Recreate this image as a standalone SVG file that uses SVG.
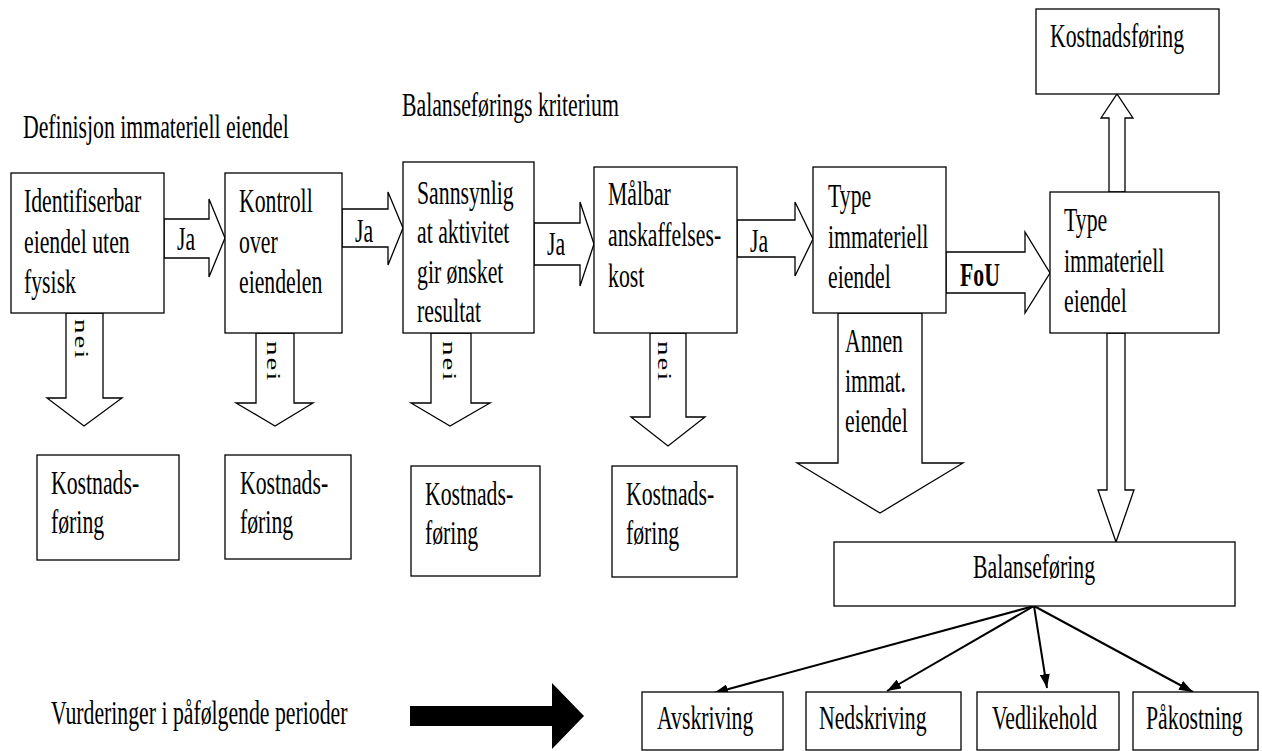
<svg xmlns="http://www.w3.org/2000/svg" width="1262" height="751" viewBox="0 0 1262 751">
  <defs>
    <style>
      .box { fill: #fff; stroke: #000; stroke-width: 1.3; }
      .blk { fill: #fff; stroke: #000; stroke-width: 1.3; stroke-linejoin: miter; }
      .t { font-family: "Liberation Serif", "Times New Roman", serif; font-size: 34px; fill: #000; }
      .b { font-weight: bold; }
      .v { font-family: "Liberation Serif", "Times New Roman", serif; font-size: 29px; letter-spacing: 2px; fill: #000; }
      .fan { stroke: #000; stroke-width: 2; fill: none; marker-end: url(#head); }
    </style>
    <marker id="head" viewBox="0 0 14 10" refX="14" refY="5" markerWidth="14" markerHeight="10" markerUnits="userSpaceOnUse" orient="auto">
      <path d="M0,0 L14,5 L0,10 Z" fill="#000"/>
    </marker>
  </defs>

  <rect width="1262" height="751" fill="#fff"/>

  <!-- headings -->
  <text class="t" transform="translate(23 138) scale(.64 1)">Definisjon immateriell eiendel</text>
  <text class="t" transform="translate(402 116) scale(.64 1)">Balanseførings kriterium</text>
  <text class="t" transform="translate(51 724) scale(.64 1)">Vurderinger i påfølgende perioder</text>

  <!-- connectors: block arrows, labels and fan-out arrows -->
  <g id="connectors">
    <!-- Ja arrows -->
    <polygon class="blk" points="164,219 209,219 209,199 225,238 209,277 209,258 164,258"/>
    <polygon class="blk" points="342,209 388,209 388,192 403,228 388,265 388,247 342,247"/>
    <polygon class="blk" points="534,223 580,223 580,202 594,244 580,286 580,265 534,265"/>
    <polygon class="blk" points="737,220 795,220 795,202 813,239 795,276 795,257 737,257"/>
    <!-- FoU arrow -->
    <polygon class="blk" points="946,252 1025,252 1025,232 1050,273 1025,313 1025,293 946,293"/>
    <!-- nei arrows -->
    <polygon class="blk" points="66,313 66,398 47,398 84,426 122,398 103,398 103,313"/>
    <polygon class="blk" points="256,333 256,403 236,403 275,426 313,403 294,403 294,333"/>
    <polygon class="blk" points="431,333 431,403 411,403 450,426 490,403 471,403 471,333"/>
    <polygon class="blk" points="650,333 650,417 631,417 668,446 705,417 686,417 686,333"/>
    <!-- other asset arrow -->
    <polygon class="blk" points="838,313 838,463 797,463 880,513 963,463 922,463 922,313"/>
    <!-- arrow down to capitalisation -->
    <polygon class="blk" points="1107,333 1107,490 1098,490 1116,542 1134,490 1125,490 1125,333"/>
    <!-- arrow up to expensing -->
    <polygon class="blk" points="1109,192 1109,118 1101,118 1117,94 1133,118 1125,118 1125,192"/>

    <!-- labels on block arrows -->
    <text class="t" transform="translate(177 250) scale(.64 1)">Ja</text>
    <text class="t" transform="translate(355 242) scale(.64 1)">Ja</text>
    <text class="t" transform="translate(547 255) scale(.64 1)">Ja</text>
    <text class="t" transform="translate(750 252) scale(.64 1)">Ja</text>
    <text class="t b" transform="translate(960 286) scale(.64 1)">FoU</text>
    <text class="v" transform="translate(75 319) scale(.63 1) rotate(90)">nei</text>
    <text class="v" transform="translate(267 341) scale(.63 1) rotate(90)">nei</text>
    <text class="v" transform="translate(443 341) scale(.63 1) rotate(90)">nei</text>
    <text class="v" transform="translate(658 341) scale(.63 1) rotate(90)">nei</text>
    <text class="t" transform="translate(845 352) scale(.64 1)"><tspan x="0" y="0">Annen</tspan><tspan x="0" y="40">immat.</tspan><tspan x="0" y="80">eiendel</tspan></text>

    <!-- thick arrow towards later-period items -->
    <polygon points="410,706 552,706 552,683 584,716 552,749 552,726 410,726" fill="#000"/>

    <!-- fan-out from capitalisation -->
    <line class="fan" x1="1034" y1="606" x2="714" y2="693"/>
    <line class="fan" x1="1034" y1="606" x2="887" y2="691"/>
    <line class="fan" x1="1034" y1="606" x2="1047" y2="688"/>
    <line class="fan" x1="1034" y1="606" x2="1193" y2="692"/>
  </g>

  <!-- decision nodes -->
  <g id="identifiserbar">
    <rect class="box" x="11" y="173" width="153" height="140"/>
    <text class="t" transform="translate(24 212) scale(.64 1)"><tspan x="0" y="0">Identifiserbar</tspan><tspan x="0" y="41">eiendel uten</tspan><tspan x="0" y="81">fysisk</tspan></text>
  </g>
  <g id="kontroll">
    <rect class="box" x="225" y="173" width="117" height="160"/>
    <text class="t" transform="translate(239 212) scale(.64 1)"><tspan x="0" y="0">Kontroll</tspan><tspan x="0" y="41">over</tspan><tspan x="0" y="81">eiendelen</tspan></text>
  </g>
  <g id="sannsynlig">
    <rect class="box" x="403" y="162" width="131" height="171"/>
    <text class="t" transform="translate(417 204) scale(.64 1)"><tspan x="0" y="0">Sannsynlig</tspan><tspan x="0" y="39">at aktivitet</tspan><tspan x="0" y="79">gir ønsket</tspan><tspan x="0" y="118">resultat</tspan></text>
  </g>
  <g id="maalbar">
    <rect class="box" x="594" y="167" width="143" height="166"/>
    <text class="t" transform="translate(608 205) scale(.64 1)"><tspan x="0" y="0">Målbar</tspan><tspan x="0" y="41">anskaffelses-</tspan><tspan x="0" y="82">kost</tspan></text>
  </g>
  <g id="type1">
    <rect class="box" x="813" y="167" width="133" height="146"/>
    <text class="t" transform="translate(828 207) scale(.64 1)"><tspan x="0" y="0">Type</tspan><tspan x="0" y="41">immateriell</tspan><tspan x="0" y="81">eiendel</tspan></text>
  </g>
  <g id="type2">
    <rect class="box" x="1050" y="192" width="169" height="141"/>
    <text class="t" transform="translate(1064 231) scale(.64 1)"><tspan x="0" y="0">Type</tspan><tspan x="0" y="41">immateriell</tspan><tspan x="0" y="81">eiendel</tspan></text>
  </g>

  <!-- expensing outcomes -->
  <g id="kostnad-fou">
    <rect class="box" x="1036" y="9" width="183" height="85"/>
    <text class="t" transform="translate(1050 47) scale(.64 1)">Kostnadsføring</text>
  </g>
  <g id="kostnad1">
    <rect class="box" x="37" y="455" width="142" height="105"/>
    <text class="t" transform="translate(51 494) scale(.64 1)"><tspan x="0" y="0">Kostnads-</tspan><tspan x="0" y="39">føring</tspan></text>
  </g>
  <g id="kostnad2">
    <rect class="box" x="225" y="455" width="126" height="104"/>
    <text class="t" transform="translate(240 494) scale(.64 1)"><tspan x="0" y="0">Kostnads-</tspan><tspan x="0" y="39">føring</tspan></text>
  </g>
  <g id="kostnad3">
    <rect class="box" x="411" y="466" width="129" height="110"/>
    <text class="t" transform="translate(425 505) scale(.64 1)"><tspan x="0" y="0">Kostnads-</tspan><tspan x="0" y="39">føring</tspan></text>
  </g>
  <g id="kostnad4">
    <rect class="box" x="612" y="466" width="125" height="111"/>
    <text class="t" transform="translate(626 505) scale(.64 1)"><tspan x="0" y="0">Kostnads-</tspan><tspan x="0" y="39">føring</tspan></text>
  </g>

  <!-- capitalisation and later-period items -->
  <g id="balansefoering">
    <rect class="box" x="834" y="542" width="401" height="64"/>
    <text class="t" transform="translate(973 578) scale(.64 1)">Balanseføring</text>
  </g>
  <g id="avskriving">
    <rect class="box" x="642" y="692" width="141" height="58"/>
    <text class="t" transform="translate(657 729) scale(.64 1)">Avskriving</text>
  </g>
  <g id="nedskriving">
    <rect class="box" x="806" y="692" width="155" height="58"/>
    <text class="t" transform="translate(819 729) scale(.64 1)">Nedskriving</text>
  </g>
  <g id="vedlikehold">
    <rect class="box" x="977" y="692" width="142" height="58"/>
    <text class="t" transform="translate(992 729) scale(.64 1)">Vedlikehold</text>
  </g>
  <g id="paakostning">
    <rect class="box" x="1133" y="692" width="125" height="58"/>
    <text class="t" transform="translate(1146 729) scale(.64 1)">Påkostning</text>
  </g>
</svg>
